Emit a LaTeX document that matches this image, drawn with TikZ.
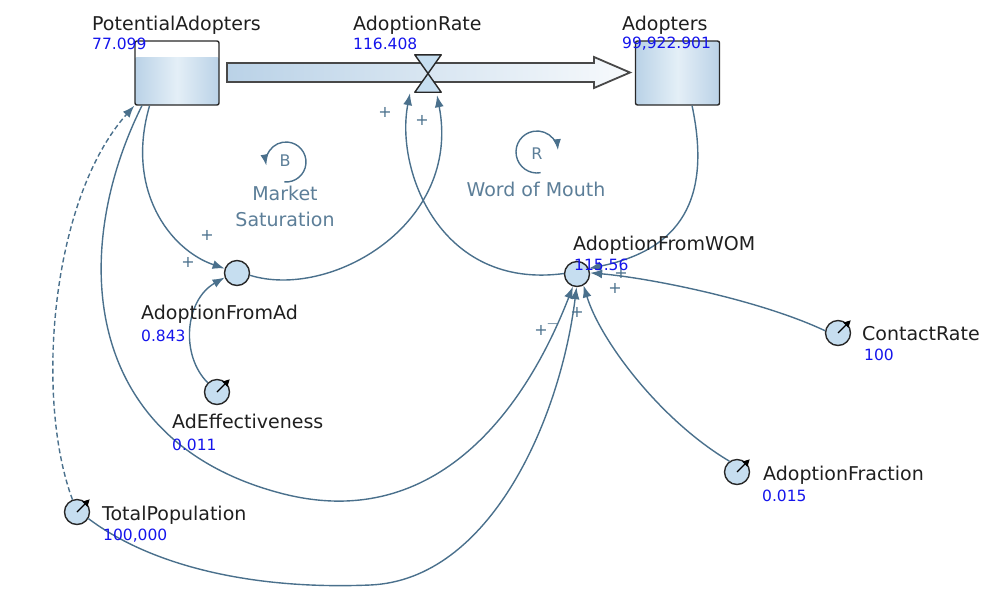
\documentclass[tikz,border=0pt]{standalone}
\usepackage{fontspec}
\setmainfont{DejaVu Sans}
\usetikzlibrary{arrows.meta}
\definecolor{linkblue}{RGB}{74,112,140}
\definecolor{looptext}{RGB}{92,126,152}
\definecolor{valblue}{RGB}{20,20,235}
\definecolor{stockL}{RGB}{186,210,231}
\definecolor{stockM}{RGB}{228,239,247}
\definecolor{auxfill}{RGB}{198,222,240}
\definecolor{edge}{RGB}{40,40,40}

\begin{document}
\begin{tikzpicture}[x=1pt,y=1pt,
  lbl/.style={anchor=base west,inner sep=0,font=\fontsize{19}{22}\selectfont,text=black!88},
  val/.style={anchor=base west,inner sep=0,font=\fontsize{15.5}{18}\selectfont,text=valblue},
  stock/.style={draw=edge,line width=1.4pt,rounded corners=2pt,minimum width=84pt,minimum height=64pt,inner sep=0},
  aux/.style={circle,draw=edge,line width=1.4pt,fill=auxfill,minimum size=25pt,inner sep=0},
  link/.style={draw=linkblue,line width=1.4pt,-{Latex[length=12pt,width=9pt]}},
  pol/.style={text=linkblue,inner sep=0,font=\fontsize{16}{18}\selectfont},
  looplbl/.style={anchor=base,text=looptext,inner sep=0,font=\fontsize{19}{22}\selectfont}]

\useasboundingbox (0,0) rectangle (984,-590);

\shade[left color=stockL,right color=white!88!stockL,draw=edge!85,line width=1.8pt,line join=miter]
  (227,-63) -- (594,-63) -- (594,-57) -- (630,-72.5) -- (594,-88) -- (594,-82) -- (227,-82) -- cycle;

\node[stock,fill=white,path picture={\shade[left color=stockL,right color=stockL,middle color=stockM]
  ([yshift=-16pt]path picture bounding box.north west) rectangle (path picture bounding box.south east);}] (pa) at (177,-73) {};
\node[stock,left color=stockL,right color=stockL,middle color=stockM] (ad) at (677.5,-73) {};

\node[minimum width=26pt,minimum height=37pt,inner sep=0] (rate) at (428,-73.5) {};
\filldraw[fill=auxfill,draw=edge,line width=1.4pt,line join=round]
  (rate.north west) -- (rate.north east) -- (rate.south west) -- (rate.south east) -- cycle;

\node[aux] (afa) at (237,-273) {};
\node[aux] (afw) at (577,-274) {};
\node[aux] (cr) at (838,-333) {};
\node[aux] (ae) at (217,-392) {};
\node[aux] (af) at (737,-472) {};
\node[aux] (tp) at (77,-512) {};
\foreach \c in {cr,ae,af,tp}
  \draw[black,line width=1.2pt,-{Triangle[length=7pt,width=7pt]}] (\c.center) -- ++(45:18);

\draw[link] (pa.-130) .. controls (125,-190) and (170,-250) .. (afa.160);
\draw[link] (ae.135) .. controls (180,-355) and (185,-300) .. (afa.200);
\draw[link] (afa.-10) .. controls (330,-300) and (462,-225) .. ([xshift=9pt,yshift=-3pt]rate.south);
\draw[link] (afw.178) .. controls (440,-290) and (395,-170) .. ([xshift=-18pt,yshift=-1pt]rate.south);
\draw[link] (ad.-66) .. controls (712,-200) and (680,-250) .. (afw.25);
\draw[link] (cr.170) .. controls (760,-300) and (650,-278) .. (afw.5);
\draw[link] (af.125) .. controls (660,-420) and (600,-340) .. (afw.-60);
\draw[link] (pa.-137) .. controls (70,-250) and (80,-440) .. (280,-493)
  .. controls (430,-533) and (522,-418) .. (afw.-108);
\draw[link] (tp.-30) .. controls (150,-565) and (250,-590) .. (370,-585)
  .. controls (490,-580) and (560,-420) .. (afw.-92);
\draw[link,dash pattern=on 5pt off 3pt] (tp.110) .. controls (35,-400) and (50,-200) .. (pa.south west);

\draw[link,-{Latex[length=11pt,width=8pt]}] (286,-162) ++(-95:20) arc[start angle=-95,end angle=190,radius=20];
\draw[link,-{Latex[length=11pt,width=8pt]}] (537,-152) ++(-80:21) arc[start angle=-80,end angle=-355,radius=21];
\node[text=looptext,font=\fontsize{16}{18}\selectfont] (bal) at (285,-161) {B};
\node[text=looptext,font=\fontsize{16}{18}\selectfont] (rein) at (537,-154) {R};
\node[looplbl] (msat1) at (285,-200) {Market};
\node[looplbl] (msat2) at (285,-226) {Saturation};
\node[looplbl] (wom) at (536,-196) {Word of Mouth};

\node[pol] (p1) at (207,-235) {+};
\node[pol] (p2) at (188,-262) {+};
\node[pol] (p3) at (385,-112) {+};
\node[pol] (p4) at (422,-120) {+};
\node[pol] (p5) at (621,-273) {+};
\node[pol] (p6) at (615,-288) {+};
\node[pol] (p7) at (577,-312) {+};
\node[pol] (p8) at (541,-330) {+};
\node[pol] (m1) at (553,-324) {$-$};

\node[lbl] (pa-name) at (92,-30) {PotentialAdopters};
\node[val] (pa-val) at (92,-49) {77.099};
\node[lbl] (rate-name) at (353,-30) {AdoptionRate};
\node[val] (rate-val) at (353,-49) {116.408};
\node[lbl] (ad-name) at (622,-30) {Adopters};
\node[val] (ad-val) at (622,-48) {99,922.901};
\node[lbl] (afw-name) at (573,-250) {AdoptionFromWOM};
\node[val] (afw-val) at (574,-270) {115.56};
\node[lbl] (afa-name) at (141,-319) {AdoptionFromAd};
\node[val] (afa-val) at (141,-341) {0.843};
\node[lbl] (ae-name) at (172,-428) {AdEffectiveness};
\node[val] (ae-val) at (172,-450) {0.011};
\node[lbl] (cr-name) at (862,-340) {ContactRate};
\node[val] (cr-val) at (864,-360) {100};
\node[lbl] (af-name) at (763,-480) {AdoptionFraction};
\node[val] (af-val) at (762,-501) {0.015};
\node[lbl] (tp-name) at (102,-520) {TotalPopulation};
\node[val] (tp-val) at (103,-540) {100,000};
\end{tikzpicture}
\end{document}
